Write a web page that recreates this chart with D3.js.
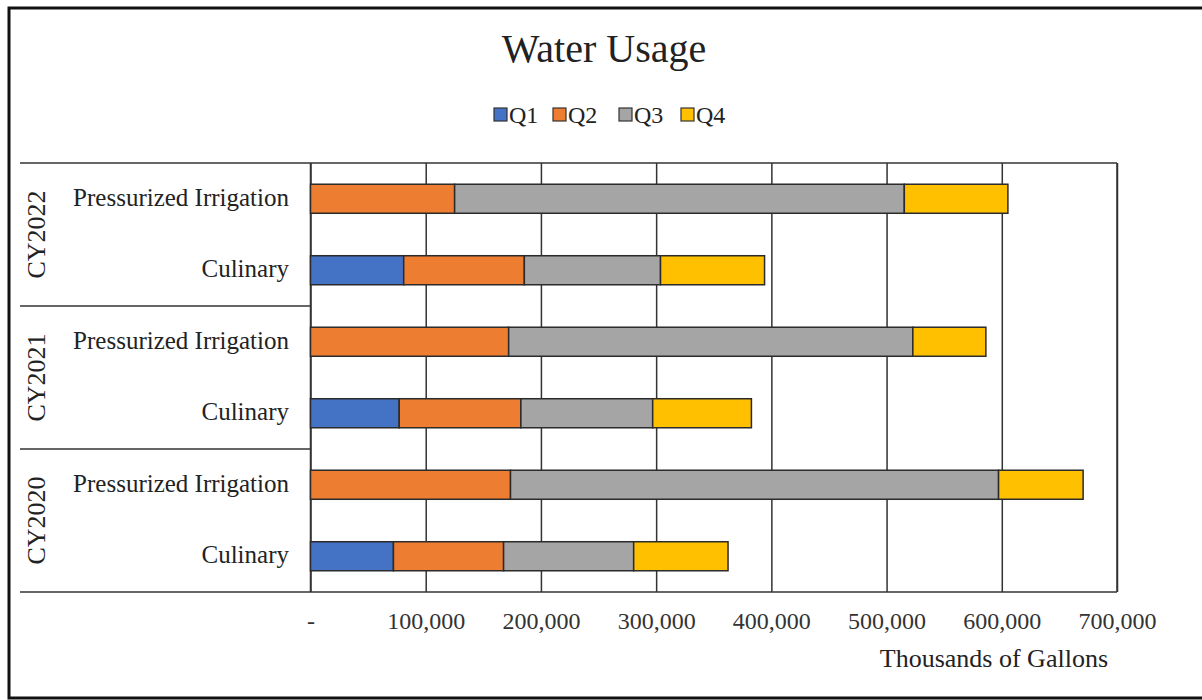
<!DOCTYPE html>
<meta charset="utf-8">
<style>
body { margin: 0; background: #fff; }
text { font-family: 'Liberation Serif', 'DejaVu Serif', serif; fill: #222; }
.grid line { stroke: #333; stroke-width: 1.5; }
.grid path { display: none; }
.ticks path, .ticks line { display: none; }
.ticks text { font-size: 24px; fill: #333; font-family: 'Liberation Serif', serif; }
</style>
<body>
<svg width="1202" height="700"></svg>

<script src="https://d3js.org/d3.v7.min.js"></script>
<script>

// chart data (thousands of gallons)
var years = ["CY2022", "CY2021", "CY2020"];
var uses = ["Pressurized Irrigation", "Culinary"];
var quarters = ["Q1", "Q2", "Q3", "Q4"];
// rows top to bottom: 2022 PI, 2022 Cul, 2021 PI, 2021 Cul, 2020 PI, 2020 Cul
var q1 = [0, 80900, 0, 77000, 0, 72000];
var q2 = [125100, 104700, 172000, 105600, 173600, 95600];
var q3 = [390300, 118200, 350800, 114400, 423600, 112900];
var q4 = [89900, 90300, 63400, 85700, 73400, 81900];
var tickValues = [0, 100000, 200000, 300000, 400000, 500000, 600000, 700000];

var colors = ["#4472C4", "#ED7D31", "#A5A5A5", "#FFC000"];

var svg = d3.select("svg"),
    width = +svg.attr("width"),
    height = +svg.attr("height");

var pLeft = 310.5, pRight = 1117, pTop = 163, pBottom = 592;

// build rows for the stack
var rows = [];
years.forEach(function(yr) {
  uses.forEach(function(u) {
    var i = rows.length;
    rows.push({ key: yr + "|" + u, year: yr, use: u,
      Q1: q1[i], Q2: q2[i], Q3: q3[i], Q4: q4[i] });
  });
});

var x = d3.scaleLinear().domain([0, 700000]).range([pLeft, pRight]);
var y = d3.scaleBand()
    .domain(rows.map(function(d) { return d.key; }))
    .range([pTop, pBottom])
    .paddingInner(0.594)
    .paddingOuter(0.297);

var color = d3.scaleOrdinal().domain(quarters).range(colors);

// outer frame
svg.append("rect")
    .attr("x", 9).attr("y", 8)
    .attr("width", 1200).attr("height", 690)
    .attr("fill", "none").attr("stroke", "#111").attr("stroke-width", 3);

// title
svg.append("text")
    .attr("x", 604).attr("y", 62)
    .attr("text-anchor", "middle")
    .style("font-size", "40px")
    .text("Water Usage");

// legend
var legX = [494, 553, 619, 681];
var leg = svg.append("g").selectAll("g")
    .data(quarters)
  .enter().append("g")
    .attr("transform", function(d, i) { return "translate(" + legX[i] + ",114)"; });
leg.append("rect")
    .attr("x", 0).attr("y", -6).attr("width", 13).attr("height", 13)
    .attr("fill", function(d) { return color(d); })
    .attr("stroke", "#333").attr("stroke-width", 1.2);
leg.append("text")
    .attr("x", 15).attr("y", 9)
    .style("font-size", "24px")
    .text(function(d) { return d; });

// gridlines
svg.append("g")
    .attr("class", "grid")
    .attr("transform", "translate(0," + pBottom + ")")
    .call(d3.axisBottom(x).tickValues(tickValues).tickSize(-(pBottom - pTop)).tickFormat(""));

// plot frame and category separators
var frame = svg.append("g").attr("stroke", "#333").attr("stroke-width", 1.5);
frame.append("line").attr("x1", 20).attr("x2", pRight).attr("y1", pTop).attr("y2", pTop);
frame.append("line").attr("x1", 20).attr("x2", pRight).attr("y1", pBottom).attr("y2", pBottom);
frame.append("line").attr("x1", pRight).attr("x2", pRight).attr("y1", pTop).attr("y2", pBottom);
frame.append("line").attr("x1", pLeft).attr("x2", pLeft).attr("y1", pTop).attr("y2", pBottom);
var groupH = (pBottom - pTop) / years.length;
years.forEach(function(yr, g) {
  if (g > 0) {
    frame.append("line").attr("x1", 20).attr("x2", pLeft)
        .attr("y1", pTop + g * groupH).attr("y2", pTop + g * groupH);
  }
});

// stacked bars
var series = d3.stack().keys(quarters)(rows);
svg.append("g")
  .selectAll("g")
  .data(series)
  .enter().append("g")
    .attr("fill", function(d) { return color(d.key); })
  .selectAll("rect")
  .data(function(d) { return d.filter(function(s) { return s[1] > s[0]; }); })
  .enter().append("rect")
    .attr("x", function(d) { return x(d[0]); })
    .attr("y", function(d) { return y(d.data.key); })
    .attr("width", function(d) { return x(d[1]) - x(d[0]); })
    .attr("height", y.bandwidth())
    .attr("stroke", "#2b2b2b")
    .attr("stroke-width", 1.5);

// row labels
svg.append("g").selectAll("text")
    .data(rows)
  .enter().append("text")
    .attr("x", 289)
    .attr("y", function(d) { return y(d.key) + y.bandwidth() / 2 + 7; })
    .attr("text-anchor", "end")
    .style("font-size", "25px")
    .text(function(d) { return d.use; });

// year labels (rotated)
svg.append("g").selectAll("text")
    .data(years)
  .enter().append("text")
    .attr("transform", function(d, g) {
      return "translate(45," + (pTop + (g + 0.5) * groupH) + ") rotate(-90)";
    })
    .attr("text-anchor", "middle")
    .style("font-size", "26px")
    .text(function(d) { return d; });

// x tick labels
svg.append("g")
    .attr("class", "ticks")
    .attr("transform", "translate(0," + pBottom + ")")
    .call(d3.axisBottom(x).tickValues(tickValues).tickSize(0).tickPadding(20)
      .tickFormat(function(d) { return d === 0 ? "-" : d3.format(",")(d); }));

// axis title
svg.append("text")
    .attr("x", 1108).attr("y", 667)
    .attr("text-anchor", "end")
    .style("font-size", "26px")
    .text("Thousands of Gallons");

</script>
